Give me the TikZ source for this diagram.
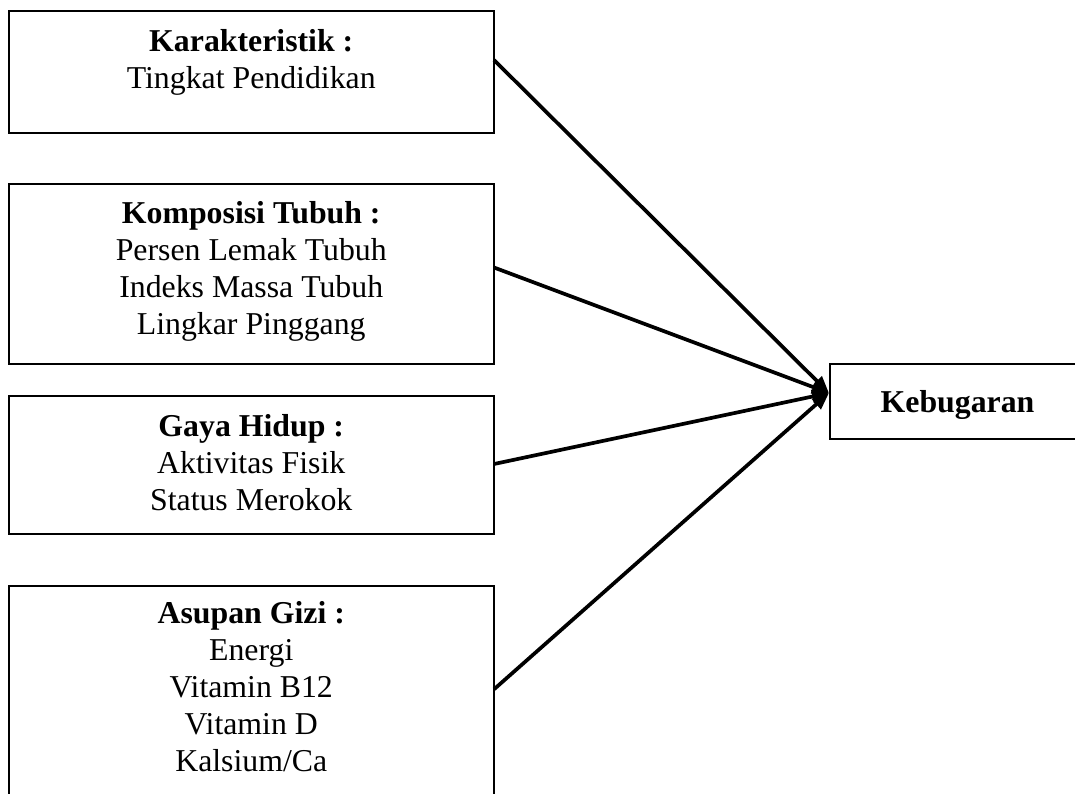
\documentclass[tikz,border=0pt]{standalone}
\usepackage{fontspec}
\setmainfont{Liberation Serif}
\usetikzlibrary{arrows.meta,calc}
\begin{document}
\begin{tikzpicture}[x=1pt,y=1pt,
  boxstyle/.style={draw=black,line width=2pt,rectangle,inner sep=0pt,outer sep=0pt},
  txt/.style={anchor=base,inner sep=0pt,font=\fontsize{31.8}{37}\selectfont},
  btxt/.style={txt,font=\fontsize{31.8}{37}\selectfont\bfseries},
  conn/.style={line width=3.7pt,-{Triangle[length=17pt,width=13pt]}}]
\useasboundingbox (0,0) rectangle (1075,-793);
% boxes
\node[boxstyle,minimum width=485.5pt,minimum height=122.3pt] (b1) at (251.25,-72.15) {};
\node[boxstyle,minimum width=485.5pt,minimum height=180pt] (b2) at (251.25,-273.5) {};
\node[boxstyle,minimum width=485.5pt,minimum height=138.3pt] (b3) at (251.25,-464.85) {};
\node[boxstyle,minimum width=485.5pt,minimum height=230pt] (b4) at (251.25,-700.5) {};
\node[boxstyle,minimum width=260pt,minimum height=75pt] (k) at (960,-401.5) {};
% texts
\node[btxt] (t11) at (251.25,-51.7) {Karakteristik :};
\node[txt] (t12) at (251.25,-88.3) {Tingkat Pendidikan};
\node[btxt] (t21) at (251.25,-223) {Komposisi Tubuh :};
\node[txt] (t22) at (251.25,-260) {Persen Lemak Tubuh};
\node[txt] (t23) at (251.25,-297) {Indeks Massa Tubuh};
\node[txt] (t24) at (251.25,-334) {Lingkar Pinggang};
\node[btxt] (t31) at (251.25,-436.7) {Gaya Hidup :};
\node[txt] (t32) at (251.25,-473.5) {Aktivitas Fisik};
\node[txt] (t33) at (251.25,-510) {Status Merokok};
\node[btxt] (t41) at (251.25,-623.5) {Asupan Gizi :};
\node[txt] (t42) at (251.25,-660) {Energi};
\node[txt] (t43) at (251.25,-697) {Vitamin B12};
\node[txt] (t44) at (251.25,-734) {Vitamin D};
\node[txt] (t45) at (251.25,-771) {Kalsium/Ca};
\node[btxt] (tk) at (957.5,-412.7) {Kebugaran};
% connector ends
\coordinate (tip) at ($(k.west)+(-1,8.5)$);
\coordinate (s1) at ($(b1.north east)+(0,-49)$);
\coordinate (s2) at ($(b2.north east)+(0,-84)$);
\coordinate (s3) at ($(b3.north east)+(0,-68.3)$);
\coordinate (s4) at ($(b4.north east)+(0,-103.8)$);
\draw[conn] (s1) -- (tip);
\draw[conn] (s2) -- (tip);
\draw[conn] (s3) -- (tip);
\draw[conn] (s4) -- (tip);
\end{tikzpicture}
\end{document}
